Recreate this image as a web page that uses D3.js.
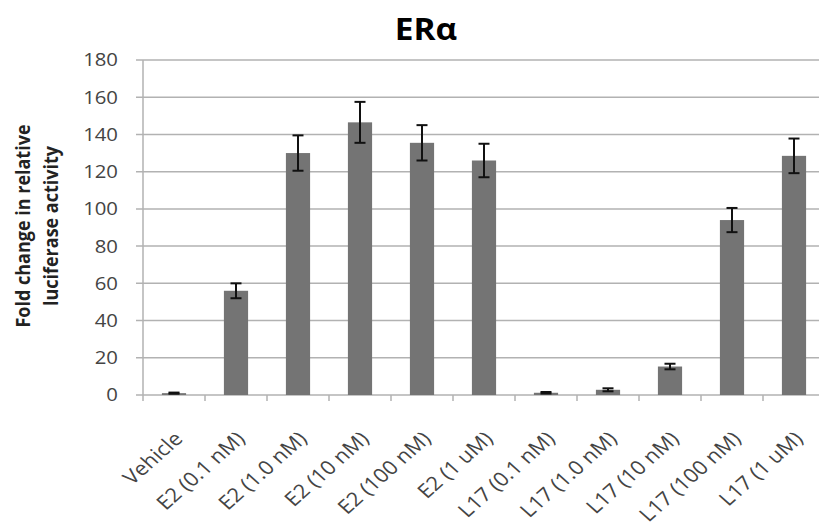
<!DOCTYPE html>
<meta charset="utf-8">
<script src="https://d3js.org/d3.v7.min.js"></script>
<style>
    body { margin: 0; background: #fff; }
    text { font-family: "Open Sans", sans-serif; }
</style>
<body>
<svg id="chart" width="819" height="529"></svg>
<script>
// values
var categories = ["Vehicle", "E2 (0.1 nM)", "E2 (1.0 nM)", "E2 (10 nM)", "E2 (100 nM)", "E2 (1 uM)",
                  "L17 (0.1 nM)", "L17 (1.0 nM)", "L17 (10 nM)", "L17 (100 nM)", "L17 (1 uM)"];
var values = [1, 56, 130, 146.5, 135.5, 126, 1.2, 2.8, 15.3, 94, 128.5];
var errors = [0.3, 4, 9.5, 11, 9.5, 9, 0.4, 0.8, 1.5, 6.5, 9.3];
var yTicks = [0, 20, 40, 60, 80, 100, 120, 140, 160, 180];

var data = categories.map(function (c, i) { return {name: c, value: values[i], err: errors[i]}; });

var svg = d3.select("#chart");
var stretch = 1.13; // the original is a bit wider than tall

var x = d3.scaleBand()
  .domain(categories)
  .range([143, 825])
  .paddingInner(0.61)
  .paddingOuter(0.305);

var y = d3.scaleLinear()
  .domain([0, 180])
  .range([395, 60]);

// gridlines
svg.append("g")
  .selectAll("line")
  .data(yTicks)
  .enter()
  .append("line")
    .attr("x1", 136)
    .attr("x2", 825)
    .attr("y1", function (d) { return y(d); })
    .attr("y2", function (d) { return y(d); })
    .attr("stroke", "#b2b2b2")
    .attr("stroke-width", 1.5);

// y axis line
svg.append("line")
  .attr("x1", 143).attr("x2", 143)
  .attr("y1", y(180)).attr("y2", y(0))
  .attr("stroke", "#b2b2b2")
  .attr("stroke-width", 1.5);

// category boundary ticks below the axis
var step = x.step();
var bounds = d3.range(categories.length + 1).map(function (i) { return 143 + i * step; });
svg.append("g")
  .selectAll("line")
  .data(bounds)
  .enter()
  .append("line")
    .attr("x1", function (d) { return d; })
    .attr("x2", function (d) { return d; })
    .attr("y1", y(0))
    .attr("y2", y(0) + 6)
    .attr("stroke", "#b2b2b2")
    .attr("stroke-width", 1.5);

// y tick labels
svg.append("g")
  .selectAll("text")
  .data(yTicks)
  .enter()
  .append("text")
    .attr("transform", function (d) { return "translate(118," + y(d) + ") scale(" + stretch + ",1)"; })
    .attr("dy", "0.36em")
    .attr("text-anchor", "end")
    .attr("font-size", 18)
    .attr("fill", "#444")
    .text(function (d) { return d; });

// bars
svg.append("g")
  .selectAll("rect")
  .data(data)
  .enter()
  .append("rect")
    .attr("x", function (d) { return x(d.name); })
    .attr("width", x.bandwidth())
    .attr("y", function (d) { return y(d.value); })
    .attr("height", function (d) { return y(0) - y(d.value); })
    .attr("fill", "#747474");

// error bars
var eb = svg.append("g")
  .attr("stroke", "#111")
  .attr("stroke-width", 2);
data.forEach(function (d) {
  var cx = x(d.name) + x.bandwidth() / 2;
  eb.append("line")
    .attr("x1", cx).attr("x2", cx)
    .attr("y1", y(d.value + d.err)).attr("y2", y(d.value - d.err));
  [d.value + d.err, d.value - d.err].forEach(function (v) {
    eb.append("line")
      .attr("x1", cx - 5.5).attr("x2", cx + 5.5)
      .attr("y1", y(v)).attr("y2", y(v));
  });
});

// category labels
svg.append("g")
  .selectAll("text")
  .data(categories)
  .enter()
  .append("text")
    .attr("transform", function (d) {
      var cx = x(d) + x.bandwidth() / 2 + 10;
      return "translate(" + cx + ",440) scale(" + stretch + ",1) rotate(-45)";
    })
    .attr("text-anchor", "end")
    .attr("font-size", 19.5)
    .attr("fill", "#444")
    .text(function (d) { return d; });

// y axis title
var yt = svg.append("text")
  .attr("transform", "translate(30,226) scale(" + stretch + ",1) rotate(-90)")
  .attr("text-anchor", "middle")
  .attr("font-size", 18)
  .attr("font-weight", "bold")
  .attr("fill", "#222");
yt.append("tspan").attr("x", 0).attr("dy", 0).text("Fold change in relative");
yt.append("tspan").attr("x", 0).attr("dy", 25).text("luciferase activity");

// chart title
svg.append("text")
  .attr("transform", "translate(426,40) scale(1.08,1)")
  .attr("text-anchor", "middle")
  .attr("font-size", 31)
  .attr("font-weight", "bold")
  .attr("fill", "#000")
  .text("ERα");
</script>
</body>
